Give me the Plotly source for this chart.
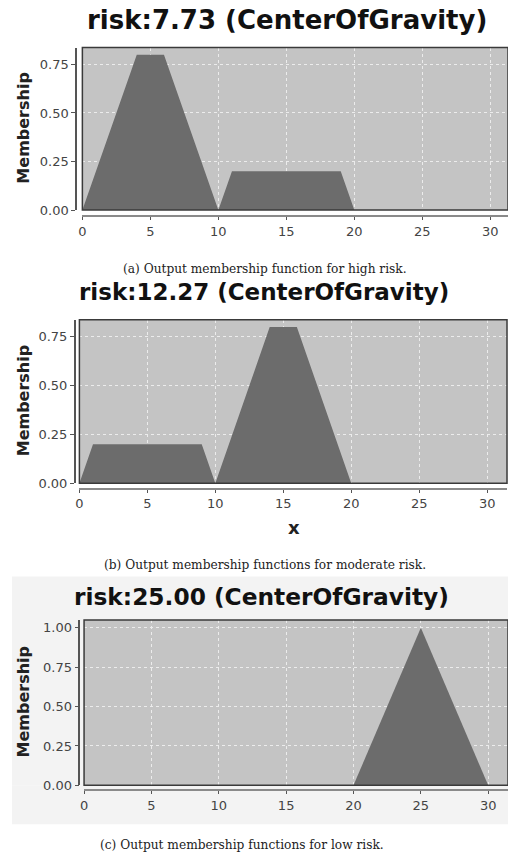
import plotly.graph_objects as go

W, H = 508, 862

# Output membership functions (aggregated fuzzy sets) for three cases
x_high = [0, 4, 6, 10, 10, 11, 19, 20]
y_high = [0, 0.8, 0.8, 0, 0, 0.2, 0.2, 0]

x_mod = [0, 1, 9, 10, 10, 14, 16, 20]
y_mod = [0, 0.2, 0.2, 0, 0, 0.8, 0.8, 0]

x_low = [20, 25, 30]
y_low = [0, 1.0, 0]

titles = ["risk:7.73 (CenterOfGravity)",
          "risk:12.27 (CenterOfGravity)",
          "risk:25.00 (CenterOfGravity)"]
captions = ["(a) Output membership function for high risk.",
            "(b) Output membership functions for moderate risk.",
            "(c) Output membership functions for low risk."]
x_ticks = [0, 5, 10, 15, 20, 25, 30]
y_ticks_a = [0, 0.25, 0.5, 0.75]
y_ticks_c = [0, 0.25, 0.5, 0.75, 1.0]


def px_x(p):
    return p / W


def px_y(p):
    return 1 - p / H


# pixel layout of each panel: plot box (left, top, right, bottom), axis-line offsets
panels = [
    dict(x=x_high, y=y_high, box=(79, 48, 508, 212), xline=218.3, yline=72.7,
         xr=[0, 31.3], yr=[0, 0.837], yt=y_ticks_a),
    dict(x=x_mod, y=y_mod, box=(76, 322.7, 507, 487.7), xline=493.3, yline=71.3,
         xr=[0, 31.46], yr=[0, 0.838], yt=y_ticks_a),
    dict(x=x_low, y=y_low, box=(80.7, 625.7, 508, 792.7), xline=797.5, yline=76,
         xr=[0, 31.47], yr=[0, 1.05], yt=y_ticks_c),
]

fig = go.Figure()
layout = dict(
    width=W, height=H, margin=dict(l=0, r=0, t=0, b=0),
    paper_bgcolor="white", plot_bgcolor="#c4c4c4", showlegend=False,
)
shapes = []
annotations = []

fill_col = "#6c6c6c"
tick_font = dict(family="DejaVu Sans", size=13, color="#444444")

# light panel backdrop around the third chart (kept off its plotting area)
back = "#f3f3f3"
for (x0, x1, y0, y1) in [(8, 508, 582, 625.7), (8, 508, 792.7, 832), (8, 80.7, 625.7, 792.7)]:
    shapes.append(dict(type="rect", xref="paper", yref="paper",
                       x0=px_x(x0), x1=px_x(x1), y0=px_y(y1), y1=px_y(y0),
                       fillcolor=back, line=dict(width=0), layer="below"))

for i, p in enumerate(panels, start=1):
    xa = "x" if i == 1 else f"x{i}"
    ya = "y" if i == 1 else f"y{i}"
    l, t, r, b = p["box"]
    fig.add_trace(go.Scatter(
        x=p["x"], y=p["y"], xaxis=xa, yaxis=ya, mode="lines",
        line=dict(width=0, color=fill_col), fill="toself", fillcolor=fill_col,
        hoverinfo="skip"))

    layout["xaxis" if i == 1 else f"xaxis{i}"] = dict(
        domain=[px_x(l), px_x(r)], range=p["xr"], anchor="free",
        position=px_y(p["xline"]),
        tickmode="array", tickvals=x_ticks, ticktext=[str(v) for v in x_ticks],
        ticks="outside", ticklen=3, tickcolor="#555555",
        showline=True, linecolor="#8a8a8a", linewidth=2,
        showgrid=True, gridcolor="#ececec", griddash="dot", gridwidth=1,
        zeroline=False, tickfont=tick_font, fixedrange=True)
    layout["yaxis" if i == 1 else f"yaxis{i}"] = dict(
        domain=[px_y(b), px_y(t)], range=p["yr"], anchor="free",
        position=px_x(p["yline"]),
        tickmode="array", tickvals=p["yt"], ticktext=[f"{v:.2f}" for v in p["yt"]],
        ticks="outside", ticklen=4, tickcolor="#555555",
        showline=True, linecolor="#555555", linewidth=1.5,
        showgrid=True, gridcolor="#ececec", griddash="dot", gridwidth=1,
        zeroline=False, tickfont=tick_font, fixedrange=True)

    # dark frame around the plotting area
    shapes.append(dict(type="rect", xref=f"{xa} domain", yref=f"{ya} domain",
                       x0=0, x1=1, y0=0, y1=1,
                       line=dict(color="#3a3a3a", width=1.5), layer="above"))

    # y-axis title
    annotations.append(dict(
        text="<b>Membership</b>", xref="paper", yref="paper",
        x=px_x(20), y=px_y((t + b) / 2 - 1), textangle=-90, showarrow=False,
        font=dict(family="DejaVu Sans", size=16, color="#222222"),
        xanchor="center", yanchor="middle"))

# chart titles
title_pos = [(285.5, 20, 26), (261.7, 295, 23), (260, 601.7, 23.3)]
for txt, (cx, cy, fs) in zip(titles, title_pos):
    annotations.append(dict(
        text=f"<b>{txt}</b>", xref="paper", yref="paper", x=px_x(cx), y=px_y(cy),
        showarrow=False, xanchor="center", yanchor="middle",
        font=dict(family="DejaVu Sans", size=fs, color="#111111")))

# x-axis title of the middle chart
annotations.append(dict(
    text="<b>x</b>", xref="paper", yref="paper", x=px_x(292), y=px_y(532),
    showarrow=False, xanchor="center", yanchor="middle",
    font=dict(family="DejaVu Sans", size=18, color="#222222")))

# figure captions
cap_pos = [(263, 272), (263, 570), (240, 853)]
for txt, (cx, cy) in zip(captions, cap_pos):
    annotations.append(dict(
        text=txt, xref="paper", yref="paper", x=px_x(cx), y=px_y(cy),
        showarrow=False, xanchor="center", yanchor="middle",
        font=dict(family="DejaVu Serif", size=12.2, color="#222222")))

layout["shapes"] = shapes
layout["annotations"] = annotations
fig.update_layout(**layout)
fig.write_html("out.html")
